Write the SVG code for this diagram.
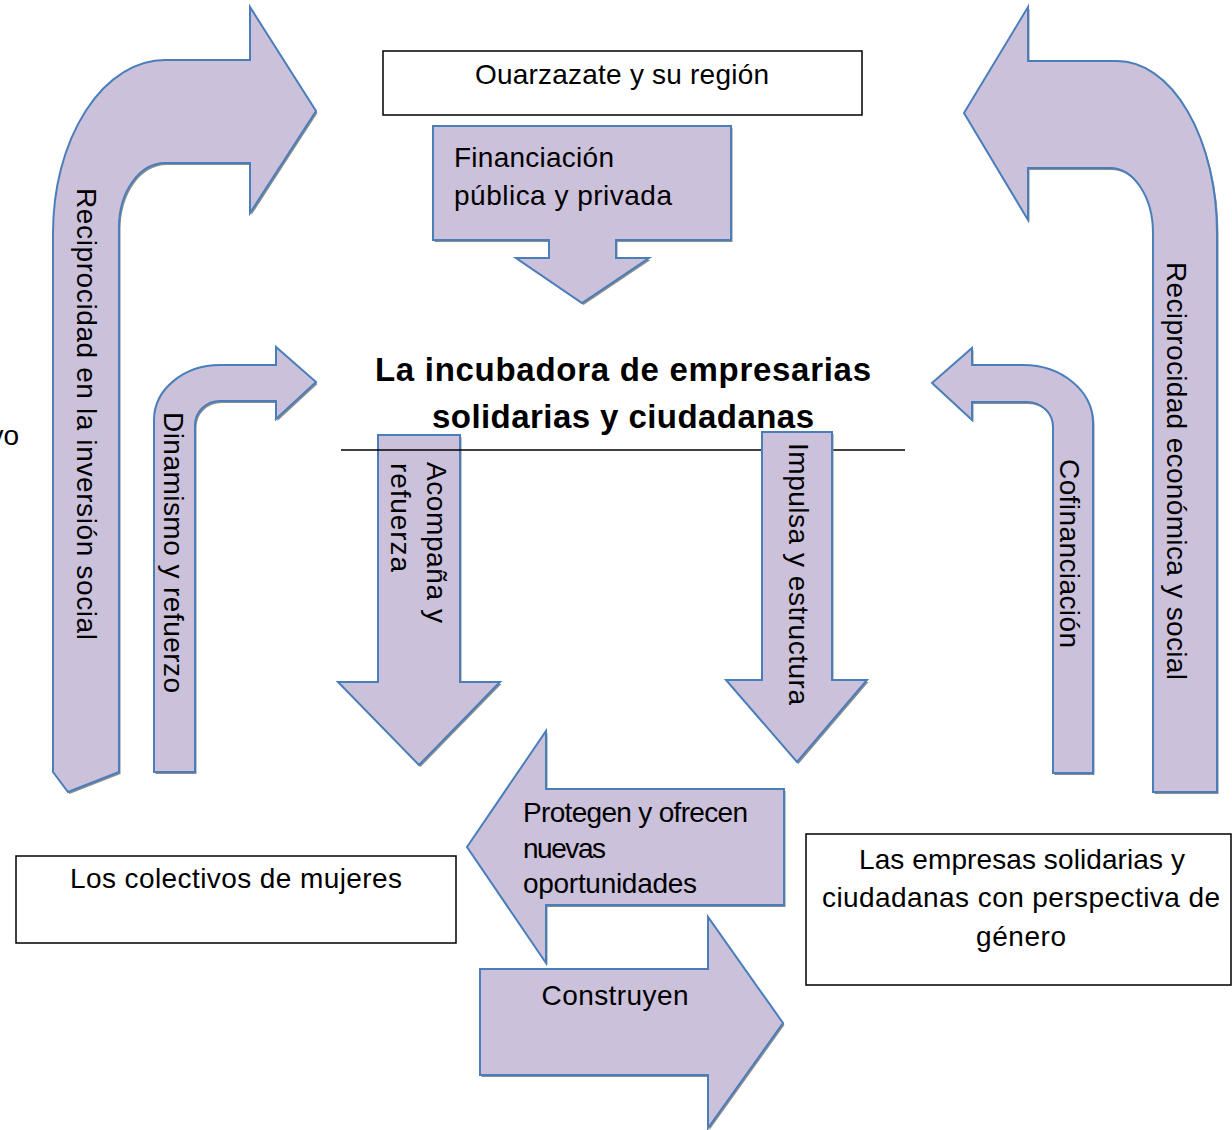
<svg xmlns="http://www.w3.org/2000/svg" xmlns:xlink="http://www.w3.org/1999/xlink" width="1232" height="1130" viewBox="0 0 1232 1130">
<style>
.ar{fill:#CCC1DA;stroke:#4A7EBB;stroke-width:2;stroke-linejoin:miter}
.sh{fill:#8c8c8c;stroke:none}
.bx{fill:#FFFFFF;stroke:#000000;stroke-width:1.5}
.t{font-family:"Liberation Sans",Arial,sans-serif;font-size:28px;fill:#000000}
.tb{font-family:"Liberation Sans",Arial,sans-serif;font-size:33px;font-weight:bold;fill:#000000}
.c{text-anchor:middle}
</style>
<defs>
<path id="pBigL" d="M53 772 L53 233 A112 173 0 0 1 165 60 L250 60 L250 7 L316 111 L250 213 L250 163 L165 163 A46 64 0 0 0 119 227 L119 772 L68 792 Z"/>
<path id="pSmL" d="M154 772 L154 420 A66 55 0 0 1 220 365 L276 365 L276 347 L316 382 L276 419 L276 401 L220 401 A25 24 0 0 0 195 425 L195 772 Z"/>
<path id="pBigR" d="M1217 792 L1217 233 A100 172 0 0 0 1117 61 L1028 61 L1028 7 L964 113 L1028 220 L1028 168 L1110 168 A43 65 0 0 1 1153 233 L1153 792 Z"/>
<path id="pSmR" d="M1093 773 L1093 423 A70 58 0 0 0 1023 365 L972 365 L972 348 L932 383 L972 420 L972 402 L1027 402 A26 25 0 0 1 1053 427 L1053 773 Z"/>
<path id="pFin" d="M433 126 L731 126 L731 240 L616 240 L616 258 L649 258 L582 303 L516 258 L549 258 L549 240 L433 240 Z"/>
<path id="pAco" d="M378 435 L460 435 L460 682 L500 682 L419 765 L338 682 L378 682 Z"/>
<path id="pImp" d="M762 432 L832 432 L832 680 L867 680 L797 762 L726 680 L762 680 Z"/>
<path id="pPro" d="M784 789 L784 905 L546 905 L546 963 L467 847 L546 731 L546 789 Z"/>
<path id="pCon" d="M480 969 L708 969 L708 917 L783 1023 L708 1128 L708 1075 L480 1075 Z"/>
</defs>

<text class="t" x="19" y="445" text-anchor="end">vo</text>

<g id="node-ouarzazate">
<rect class="bx" x="383" y="51" width="479" height="64"/>
<text class="t c" x="622" y="84" textLength="294">Ouarzazate y su región</text>
</g>

<g id="node-incubadora">
<text class="tb c" x="623" y="381" textLength="496">La incubadora de empresarias</text>
<text class="tb c" x="623" y="428" textLength="382">solidarias y ciudadanas</text>
</g>

<g id="node-colectivos">
<rect class="bx" x="16" y="856" width="440" height="87"/>
<text class="t c" x="236" y="888" textLength="332">Los colectivos de mujeres</text>
</g>

<g id="node-empresas">
<rect class="bx" x="806" y="834" width="425" height="151"/>
<text class="t c" x="1022" y="869" textLength="326">Las empresas solidarias y</text>
<text class="t c" x="1021" y="907" textLength="398">ciudadanas con perspectiva de</text>
<text class="t c" x="1021" y="946" textLength="90">género</text>
</g>

<g id="connectors">
<g id="arrow-reciprocidad-inversion">
<use xlink:href="#pBigL" class="sh" transform="translate(1.5,2)"/>
<use xlink:href="#pBigL" class="ar"/>
<text class="t" transform="translate(77,188) rotate(90)" textLength="452">Reciprocidad en la  inversión social</text>
</g>
<g id="arrow-dinamismo">
<use xlink:href="#pSmL" class="sh" transform="translate(1.5,2)"/>
<use xlink:href="#pSmL" class="ar"/>
<text class="t" transform="translate(164,412) rotate(90)" textLength="281">Dinamismo y refuerzo</text>
</g>
<g id="arrow-reciprocidad-economica">
<use xlink:href="#pBigR" class="sh" transform="translate(1.5,2)"/>
<use xlink:href="#pBigR" class="ar"/>
<text class="t" transform="translate(1167,262) rotate(90)" textLength="418">Reciprocidad económica y social</text>
</g>
<g id="arrow-cofinanciacion">
<use xlink:href="#pSmR" class="sh" transform="translate(1.5,2)"/>
<use xlink:href="#pSmR" class="ar"/>
<text class="t" transform="translate(1060,459) rotate(90)" textLength="189">Cofinanciación</text>
</g>
<g id="arrow-financiacion">
<use xlink:href="#pFin" class="sh" transform="translate(1.5,2)"/>
<use xlink:href="#pFin" class="ar"/>
<text class="t" x="454" y="167" textLength="160">Financiación</text>
<text class="t" x="454" y="205" textLength="218">pública y privada</text>
</g>
<g id="arrow-acompana">
<use xlink:href="#pAco" class="sh" transform="translate(1.5,2)"/>
<use xlink:href="#pAco" class="ar"/>
<text class="t" transform="translate(427,462) rotate(90)" textLength="161">Acompaña y</text>
<text class="t" transform="translate(391,463) rotate(90)" textLength="109">refuerza</text>
</g>
<line x1="341" y1="450" x2="905" y2="450" stroke="#000000" stroke-width="1.5"/>
<g id="arrow-impulsa">
<use xlink:href="#pImp" class="sh" transform="translate(1.5,2)"/>
<use xlink:href="#pImp" class="ar"/>
<text class="t" transform="translate(789,443) rotate(90)" textLength="262">Impulsa y estructura</text>
</g>
<g id="arrow-protegen">
<use xlink:href="#pPro" class="sh" transform="translate(1.5,2)"/>
<use xlink:href="#pPro" class="ar"/>
<text class="t" x="523" y="822" textLength="225">Protegen y ofrecen</text>
<text class="t" x="523" y="858" textLength="83">nuevas</text>
<text class="t" x="523" y="893" textLength="174">oportunidades</text>
</g>
<g id="arrow-construyen">
<use xlink:href="#pCon" class="sh" transform="translate(1.5,2)"/>
<use xlink:href="#pCon" class="ar"/>
<text class="t c" x="615" y="1005" textLength="147">Construyen</text>
</g>
</g>
</svg>
